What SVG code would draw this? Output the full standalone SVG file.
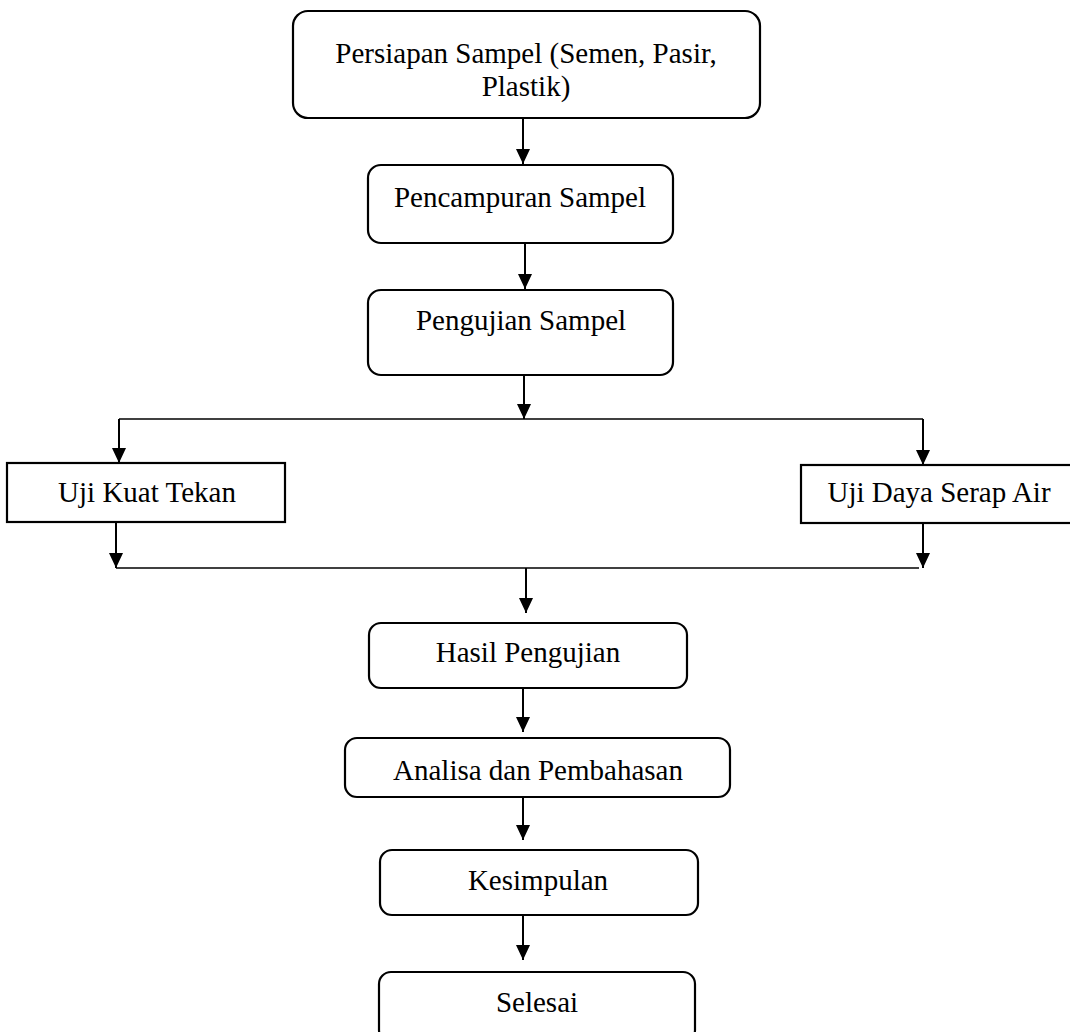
<svg xmlns="http://www.w3.org/2000/svg" width="1070" height="1032" viewBox="0 0 1070 1032">
  <style>
    .box { fill: #ffffff; stroke: #000000; stroke-width: 2.2; }
    .lbl { font-family: "Liberation Serif", "Times New Roman", serif; font-size: 29px; fill: #000000; text-anchor: middle; }
    .arr { stroke: #000000; stroke-width: 2; fill: none; marker-end: url(#ah); }
    .hl { stroke: #000000; stroke-width: 1.3; fill: none; }
  </style>
  <defs>
    <marker id="ah" viewBox="0 0 15 14" refX="15" refY="7" markerWidth="15" markerHeight="14" markerUnits="userSpaceOnUse" orient="auto">
      <path d="M0,0 L15,7 L0,14 z" fill="#000000"/>
    </marker>
  </defs>
  <rect width="1070" height="1032" fill="#ffffff"/>

  <g id="connectors">
    <line class="arr" x1="523" y1="118" x2="523" y2="164"/>
    <line class="arr" x1="525" y1="243" x2="525" y2="289"/>
    <line class="arr" x1="524" y1="375" x2="524" y2="419"/>
    <line class="hl" x1="119" y1="419" x2="923" y2="419"/>
    <line class="arr" x1="119" y1="419" x2="119" y2="463"/>
    <line class="arr" x1="923" y1="419" x2="923" y2="465"/>
    <line class="arr" x1="116" y1="522" x2="116" y2="568"/>
    <line class="arr" x1="923" y1="523" x2="923" y2="568"/>
    <line class="hl" x1="116" y1="568" x2="919" y2="568"/>
    <line class="arr" x1="526" y1="568" x2="526" y2="613"/>
    <line class="arr" x1="523" y1="688" x2="523" y2="732"/>
    <line class="arr" x1="523" y1="797" x2="523" y2="840"/>
    <line class="arr" x1="523" y1="915" x2="523" y2="960"/>
  </g>

  <g id="node-persiapan">
    <rect class="box" x="293" y="11" width="467" height="107" rx="15" ry="15"/>
    <text class="lbl" x="526" y="63">Persiapan Sampel (Semen, Pasir,</text>
    <text class="lbl" x="526" y="96">Plastik)</text>
  </g>
  <g id="node-pencampuran">
    <rect class="box" x="368" y="165" width="305" height="78" rx="13" ry="13"/>
    <text class="lbl" x="520" y="207">Pencampuran Sampel</text>
  </g>
  <g id="node-pengujian">
    <rect class="box" x="368" y="290" width="305" height="85" rx="13" ry="13"/>
    <text class="lbl" x="521" y="330">Pengujian Sampel</text>
  </g>
  <g id="node-kuat-tekan">
    <rect class="box" x="7" y="463" width="278" height="59"/>
    <text class="lbl" x="147" y="502">Uji Kuat Tekan</text>
  </g>
  <g id="node-daya-serap">
    <rect class="box" x="801" y="465" width="275" height="58"/>
    <text class="lbl" x="939" y="502">Uji Daya Serap Air</text>
  </g>
  <g id="node-hasil">
    <rect class="box" x="369" y="623" width="318" height="65" rx="12" ry="12"/>
    <text class="lbl" x="528" y="662">Hasil Pengujian</text>
  </g>
  <g id="node-analisa">
    <rect class="box" x="345" y="738" width="385" height="59" rx="12" ry="12"/>
    <text class="lbl" x="538" y="780">Analisa dan Pembahasan</text>
  </g>
  <g id="node-kesimpulan">
    <rect class="box" x="380" y="850" width="318" height="65" rx="12" ry="12"/>
    <text class="lbl" x="538" y="890">Kesimpulan</text>
  </g>
  <g id="node-selesai">
    <rect class="box" x="379" y="972" width="316" height="70" rx="12" ry="12"/>
    <text class="lbl" x="537" y="1012">Selesai</text>
  </g>
</svg>
